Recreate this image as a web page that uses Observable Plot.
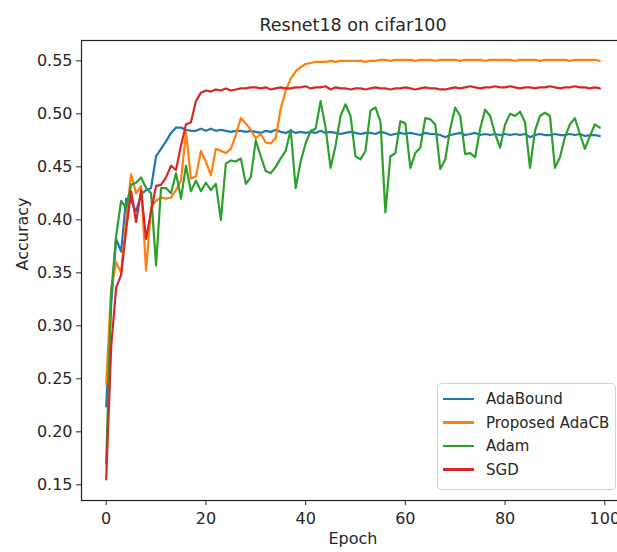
<!DOCTYPE html>
<html>
<head>
<meta charset="utf-8">
<script src="https://cdn.jsdelivr.net/npm/d3@7"></script>
<script src="https://cdn.jsdelivr.net/npm/@observablehq/plot@0.6"></script>
<style>
  html, body { margin: 0; padding: 0; background: #fff; overflow: hidden; }
  #wrap { position: relative; width: 617px; height: 552px; overflow: hidden; font-family: "DejaVu Sans", sans-serif; }
  #chart svg { max-width: none !important; display: block; }
  #legend { position: absolute; left: 437px; top: 383px; width: 179px; height: 107px; box-sizing: border-box;
    border: 1px solid #d4d4d4; border-radius: 4px; background: rgba(255,255,255,0.85); }
  .row { position: absolute; left: 0; height: 20px; display: flex; align-items: center; font-size: 15px; color: #262626; white-space: nowrap; }
  .sw { width: 31px; height: 2.2px; margin-left: 5px; margin-right: 12px; }
</style>
</head>
<body>
<div id="wrap"><div id="chart"></div><div id="legend"></div></div>
<script>
const title = "Resnet18 on cifar100";
const xLabel = "Epoch";
const yLabel = "Accuracy";
const seriesNames = ["AdaBound", "Proposed AdaCB", "Adam", "SGD"];
const seriesColors = ["#1f77b4", "#ff7f0e", "#2ca02c", "#d62728"];
const xTicks = [0, 20, 40, 60, 80, 100];
const yTicks = [0.15, 0.20, 0.25, 0.30, 0.35, 0.40, 0.45, 0.50, 0.55];
const epochs = d3.range(100);

const adaBound = [
  0.224, 0.320, 0.382, 0.370, 0.420, 0.418, 0.408, 0.424, 0.428, 0.430,
  0.460, 0.467, 0.474, 0.482, 0.487, 0.487, 0.485, 0.484, 0.484, 0.486,
  0.484, 0.486, 0.484, 0.485, 0.484, 0.483, 0.484, 0.484, 0.483, 0.484,
  0.483, 0.482, 0.484, 0.483, 0.485, 0.483, 0.482, 0.484, 0.482, 0.483,
  0.482, 0.483, 0.482, 0.484, 0.482, 0.483, 0.482, 0.481, 0.482, 0.483,
  0.482, 0.481, 0.482, 0.482, 0.481, 0.483, 0.482, 0.480, 0.481, 0.482,
  0.481, 0.482, 0.481, 0.480, 0.482, 0.481, 0.481, 0.480, 0.478, 0.480,
  0.481, 0.482, 0.480, 0.481, 0.482, 0.480, 0.481, 0.480, 0.481, 0.480,
  0.481, 0.480, 0.481, 0.480, 0.481, 0.478, 0.480, 0.481, 0.480, 0.480,
  0.481, 0.480, 0.480, 0.481, 0.480, 0.481, 0.479, 0.480, 0.480, 0.479
];
const adaCB = [
  0.245, 0.335, 0.360, 0.350, 0.400, 0.443, 0.425, 0.432, 0.352, 0.412,
  0.418, 0.421, 0.420, 0.421, 0.428, 0.437, 0.483, 0.439, 0.441, 0.465,
  0.455, 0.442, 0.467, 0.465, 0.463, 0.467, 0.480, 0.496, 0.491, 0.485,
  0.477, 0.481, 0.473, 0.472, 0.477, 0.505, 0.522, 0.533, 0.540, 0.544,
  0.547, 0.548, 0.549, 0.549, 0.549, 0.550, 0.549, 0.550, 0.550, 0.550,
  0.550, 0.550, 0.549, 0.550, 0.550, 0.551, 0.551, 0.550, 0.551, 0.551,
  0.551, 0.551, 0.550, 0.551, 0.551, 0.551, 0.550, 0.551, 0.551, 0.551,
  0.551, 0.550, 0.551, 0.551, 0.551, 0.551, 0.550, 0.551, 0.551, 0.551,
  0.551, 0.551, 0.550, 0.551, 0.551, 0.551, 0.551, 0.550, 0.551, 0.551,
  0.551, 0.551, 0.551, 0.550, 0.551, 0.551, 0.551, 0.551, 0.551, 0.550
];
const adam = [
  0.170, 0.330, 0.385, 0.418, 0.411, 0.433, 0.435, 0.440, 0.430, 0.425,
  0.357, 0.430, 0.430, 0.425, 0.444, 0.420, 0.451, 0.427, 0.437, 0.427,
  0.435, 0.428, 0.434, 0.400, 0.453, 0.456, 0.455, 0.458, 0.434, 0.440,
  0.475, 0.460, 0.446, 0.444, 0.450, 0.458, 0.465, 0.485, 0.430, 0.455,
  0.472, 0.484, 0.486, 0.512, 0.487, 0.449, 0.470, 0.498, 0.509, 0.498,
  0.460, 0.457, 0.465, 0.503, 0.506, 0.493, 0.407, 0.460, 0.463, 0.493,
  0.491, 0.449, 0.463, 0.468, 0.496, 0.495, 0.490, 0.448, 0.457, 0.486,
  0.506, 0.498, 0.462, 0.463, 0.459, 0.486, 0.504, 0.498, 0.481, 0.468,
  0.490, 0.500, 0.498, 0.502, 0.492, 0.449, 0.484, 0.498, 0.501, 0.498,
  0.449, 0.459, 0.478, 0.490, 0.496, 0.481, 0.467, 0.479, 0.490, 0.487
];
const sgd = [
  0.155, 0.280, 0.336, 0.348, 0.390, 0.427, 0.398, 0.428, 0.382, 0.408,
  0.432, 0.433, 0.440, 0.451, 0.447, 0.470, 0.490, 0.492, 0.512, 0.520,
  0.522, 0.521, 0.523, 0.522, 0.524, 0.522, 0.523, 0.524, 0.524, 0.525,
  0.525, 0.524, 0.525, 0.523, 0.524, 0.525, 0.524, 0.524, 0.525, 0.525,
  0.526, 0.524, 0.525, 0.525, 0.526, 0.523, 0.525, 0.524, 0.524, 0.523,
  0.524, 0.524, 0.523, 0.524, 0.525, 0.524, 0.524, 0.523, 0.524, 0.524,
  0.525, 0.524, 0.523, 0.524, 0.525, 0.524, 0.524, 0.523, 0.523, 0.524,
  0.525, 0.524, 0.525, 0.526, 0.525, 0.524, 0.525, 0.525, 0.526, 0.525,
  0.525, 0.526, 0.525, 0.524, 0.525, 0.525, 0.524, 0.525, 0.525, 0.526,
  0.525, 0.524, 0.525, 0.525, 0.526, 0.525, 0.525, 0.524, 0.525, 0.524
];

const seriesValues = [adaBound, adaCB, adam, sgd];
const rows = [];
seriesNames.forEach((name, s) => {
  epochs.forEach((e, i) => rows.push({ epoch: e, acc: seriesValues[s][i], series: name }));
});

const chart = Plot.plot({
  width: 624,
  height: 552,
  marginLeft: 81,
  marginRight: 0,
  marginTop: 40,
  marginBottom: 52,
  style: { fontFamily: "DejaVu Sans", fontSize: "16px", color: "#262626", background: "white" },
  x: { domain: [-4.95, 103.95] },
  y: { domain: [0.1352, 0.5692] },
  color: { domain: seriesNames, range: seriesColors },
  marks: [
    Plot.axisX({ ticks: xTicks, tickSize: 5, tickPadding: 7, fontSize: 16, label: null }),
    Plot.axisY({ ticks: yTicks, tickSize: 5, tickPadding: 4, fontSize: 16, tickFormat: d3.format(".2f"), label: null }),
    Plot.line(rows, { x: "epoch", y: "acc", z: "series", stroke: "series", strokeWidth: 2.2, strokeLinejoin: "round" }),
    Plot.frame({ stroke: "#222", strokeWidth: 1.2 }),
    Plot.text([title], { text: d => d, frameAnchor: "top", dy: -22, fontSize: 17.5, fill: "#262626" }),
    Plot.text([xLabel], { text: d => d, frameAnchor: "bottom", dy: 43, fontSize: 16, fill: "#262626" }),
    Plot.text([yLabel], { text: d => d, frameAnchor: "left", dx: -59, rotate: -90, fontSize: 16, fill: "#262626" })
  ]
});
document.getElementById("chart").appendChild(chart);

const legend = document.getElementById("legend");
seriesNames.forEach((name, i) => {
  const row = document.createElement("div");
  row.className = "row";
  row.style.top = (5 + i * 23.5) + "px";
  const sw = document.createElement("span");
  sw.className = "sw";
  sw.style.background = seriesColors[i];
  const tx = document.createElement("span");
  tx.textContent = name;
  row.appendChild(sw);
  row.appendChild(tx);
  legend.appendChild(row);
});
</script>
</body>
</html>
